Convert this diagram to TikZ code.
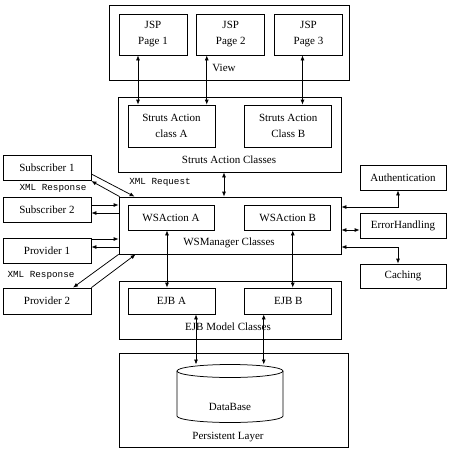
\documentclass[tikz,border=0pt]{standalone}
\usepackage{fontspec}
\setmainfont{Liberation Serif}
\setmonofont{Liberation Mono}
\usepackage{tikz}
\usetikzlibrary{positioning, arrows.meta, calc}
\tikzset{
    box/.style={draw, rectangle, align=center, inner sep=1pt, minimum width=86pt, minimum height=25pt},
    grp/.style={draw, rectangle, inner sep=0pt},
    lbl/.style={inner sep=0pt},
    xml/.style={inner sep=0pt, font=\fontsize{9.3}{11}\selectfont\ttfamily},
    dbl/.style={{Latex[length=5pt,width=4pt]}-{Latex[length=5pt,width=4pt]}},
    one/.style={-{Latex[length=5pt,width=4pt]}},
}

\begin{document}
\begin{tikzpicture}[x=1pt, y=-1pt, line width=0.75pt, font=\fontsize{11}{16}\selectfont]
    \useasboundingbox (0,0) rectangle (450,451);

    % view layer
    \node[grp, minimum width=240pt, minimum height=75pt] (view) at (229,42.5) {};
    \node[box, minimum width=68pt, minimum height=41pt] (jsp1) at (153,34.5) {JSP\\Page 1};
    \node[box, minimum width=68pt, minimum height=41pt, right=9pt of jsp1] (jsp2) {JSP\\Page 2};
    \node[box, minimum width=68pt, minimum height=41pt, right=9pt of jsp2] (jsp3) {JSP\\Page 3};
    \node[lbl] (viewlbl) at (224,68) {View};

    % struts
    \node[grp, minimum width=223pt, minimum height=75pt] (struts) at (229.5,134.5) {};
    \node[box, minimum width=87pt, minimum height=42pt] (sa) at (171.5,126) {Struts Action\\class A};
    \node[box, minimum width=87pt, minimum height=42pt, right=29pt of sa] (sb) {Struts Action\\Class B};
    \node[lbl] (strutslbl) at (229,160) {Struts Action Classes};

    % ws manager
    \node[grp, minimum width=222pt, minimum height=57pt] (ws) at (230,225.5) {};
    \node[box] (wsa) at (171,217.5) {WSAction A};
    \node[box, right=30pt of wsa] (wsb) {WSAction B};
    \node[lbl] (wslbl) at (229,243) {WSManager Classes};

    % ejb
    \node[grp, minimum width=222pt, minimum height=58pt] (ejb) at (230,310) {};
    \node[box, minimum width=87pt, minimum height=26pt] (ejba) at (171.5,301) {EJB A};
    \node[box, minimum width=87pt, minimum height=26pt, right=29pt of ejba] (ejbb) {EJB B};
    \node[lbl] (ejblbl) at (228,327) {EJB Model Classes};

    % persistent layer
    \node[grp, minimum width=229pt, minimum height=94pt] (pers) at (233.5,400) {};
    \draw (177,371) -- (177,416) arc[start angle=180, end angle=0, x radius=53, y radius=6.5] -- (283,371);
    \draw (230,371) ellipse[x radius=53, y radius=6.5];
    \coordinate (dbtop) at (230,364.5);
    \node[lbl] (db) at (230,407) {DataBase};
    \node[lbl] (perslbl) at (228,437) {Persistent Layer};

    % clients
    \node[box, minimum width=88pt] (sub1) at (47,167.5) {Subscriber 1};
    \node[box, minimum width=88pt] (sub2) at (47,209.5) {Subscriber 2};
    \node[box, minimum width=88pt] (prov1) at (47,250.5) {Provider 1};
    \node[box, minimum width=88pt, minimum height=26pt] (prov2) at (47,301) {Provider 2};

    % services
    \node[box] (auth) at (403,177.5) {Authentication};
    \node[box] (err) at (403,225.5) {ErrorHandling};
    \node[box, minimum height=24pt] (cach) at (403,276) {Caching};

    \node[xml] (req) at (160,182) {XML Request};
    \node[xml] (resp1) at (53,188) {XML Response};
    \node[xml] (resp2) at (41,275) {XML Response};

    \draw[dbl] ([xshift=-15pt]jsp1.south) -- ([xshift=-15pt]jsp1.south |- sa.north);
    \draw[dbl] ([xshift=-24pt]jsp2.south) -- ([xshift=-24pt]jsp2.south |- sa.north);
    \draw[dbl] ([xshift=-6pt]jsp3.south) -- ([xshift=-6pt]jsp3.south |- sb.north);
    \draw[dbl] ([xshift=-5.5pt]struts.south) -- ([xshift=-5.5pt]struts.south |- ws.north);
    \draw[dbl] ([xshift=-4pt]wsa.south) -- ([xshift=-4pt]wsa.south |- ejba.north);
    \draw[dbl] ([xshift=5pt]wsb.south) -- ([xshift=5pt]wsb.south |- ejbb.north);
    \draw[dbl] ([xshift=24.5pt]ejba.south) -- ([xshift=24.5pt]ejba.south |- dbtop);
    \draw[dbl] ([xshift=-24.5pt]ejbb.south) -- ([xshift=-24.5pt]ejbb.south |- dbtop);

    \draw[dbl] ([yshift=18.5pt]ws.east) -| ([xshift=-5pt]auth.south);
    \draw[dbl] ([yshift=-4.5pt]ws.east) -- ([yshift=-4.5pt]ws.east -| err.west);
    \draw[dbl] ([yshift=-21.5pt]ws.east) -| ([xshift=-5pt]cach.north);

    \draw[one] ([yshift=-6.5pt]sub1.east) -- ([xshift=16pt]ws.north west);
    \draw[one] ([xshift=1pt]ws.north west) -- ([yshift=-13.5pt]sub1.east);
    \draw[one] ([yshift=4.5pt]sub2.east) -- ([yshift=4.5pt]sub2.east -| ws.west);
    \draw[one] ([yshift=-3.5pt]sub2.east -| ws.west) -- ([yshift=-3.5pt]sub2.east);
    \draw[one] ([yshift=11.5pt]prov1.east) -- ([yshift=11.5pt]prov1.east -| ws.west);
    \draw[one] ([yshift=3.5pt]prov1.east -| ws.west) -- ([yshift=3.5pt]prov1.east);
    \draw[one] (ws.south west) -- ([xshift=26pt]prov2.north);
    \draw[one] (prov2.north east) -- ([xshift=17pt]ws.south west);
\end{tikzpicture}
\end{document}
